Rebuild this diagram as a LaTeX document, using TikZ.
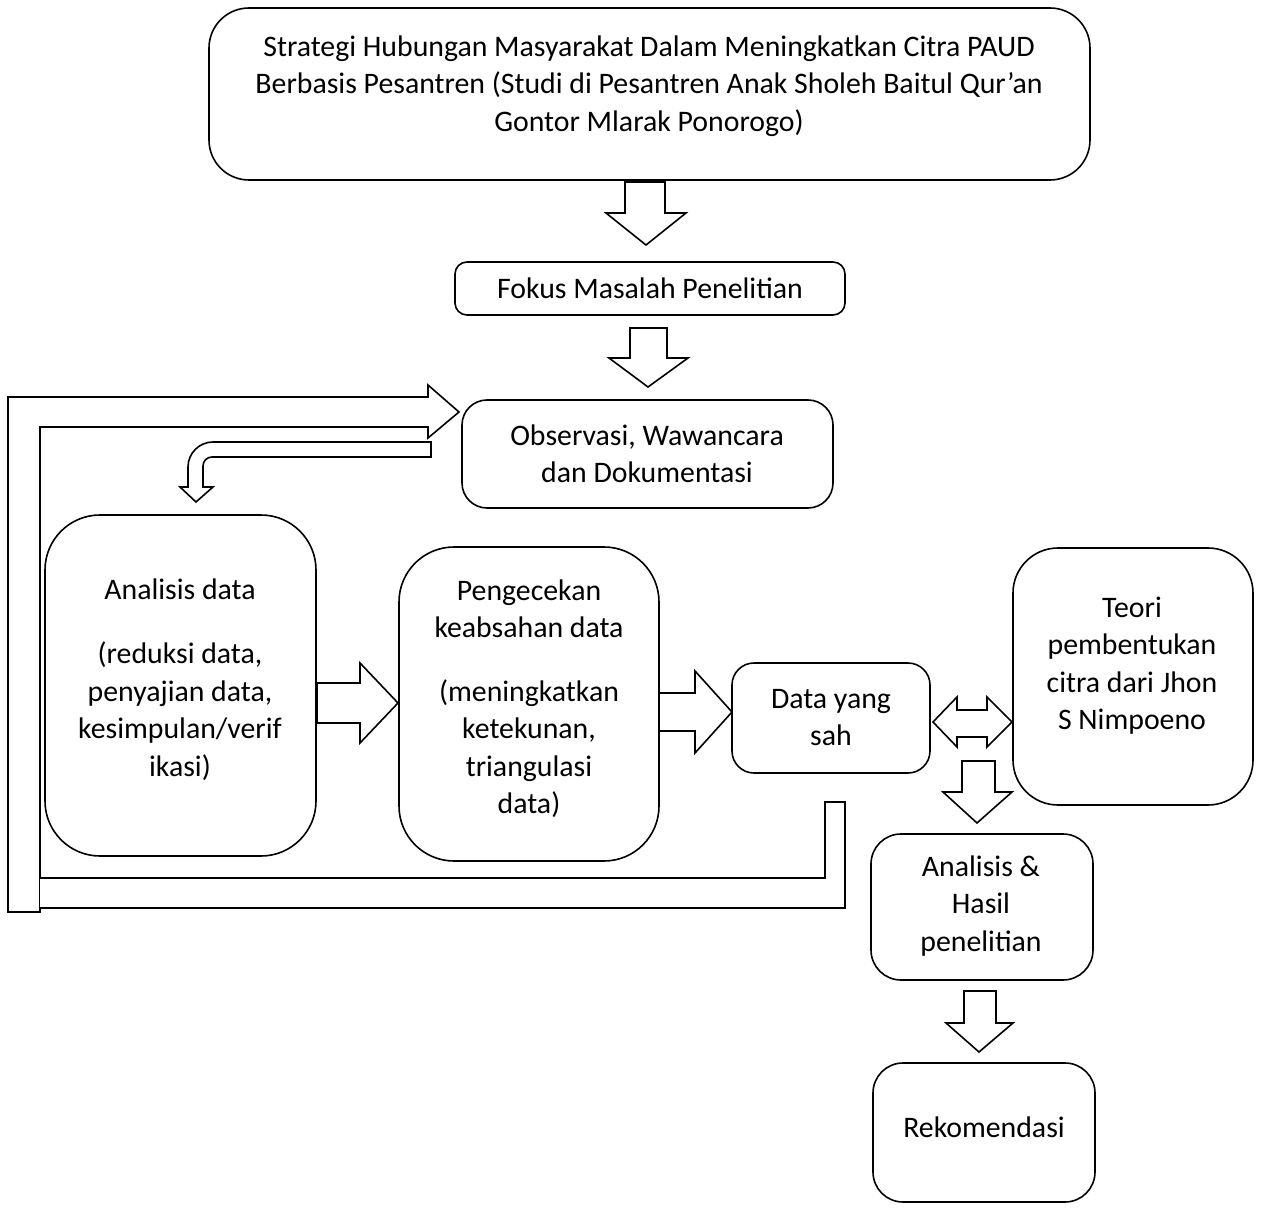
\documentclass[tikz,border=0pt]{standalone}
\usepackage{fontspec}
\setmainfont{Carlito}
\begin{document}
\begin{tikzpicture}[x=1pt,y=-1pt,
  box/.style={draw=black, line width=1.6pt, fill=white, inner sep=0pt},
  txt/.style={font=\fontsize{29.8}{37.5}\selectfont, align=center, inner sep=0pt, anchor=north},
  blk/.style={draw=black, line width=1.6pt, line join=miter, fill=white}]
\useasboundingbox (0,0) rectangle (1262,1209);
% boxes
\node[box, minimum width=881pt, minimum height=172pt, rounded corners=40pt] (top) at (649.5,94) {};
\node[box, minimum width=390pt, minimum height=53pt, rounded corners=12pt] (fokus) at (650,288.5) {};
\node[box, minimum width=371pt, minimum height=108pt, rounded corners=25pt] (obs) at (647.5,454) {};
\node[box, minimum width=271pt, minimum height=341pt, rounded corners=55pt] (anal) at (180.5,685.5) {};
\node[box, minimum width=260pt, minimum height=314pt, rounded corners=55pt] (peng) at (529,704) {};
\node[box, minimum width=198pt, minimum height=110pt, rounded corners=22pt] (data) at (831,718) {};
\node[box, minimum width=240pt, minimum height=257pt, rounded corners=45pt] (teori) at (1133,676.5) {};
\node[box, minimum width=222pt, minimum height=146pt, rounded corners=30pt] (hasil) at (982,907) {};
\node[box, minimum width=222pt, minimum height=139pt, rounded corners=30pt] (rek) at (984,1132.5) {};
% texts
\node[txt] (ttop) at (649,30) {\strut Strategi Hubungan Masyarakat Dalam Meningkatkan Citra PAUD\\Berbasis Pesantren (Studi di Pesantren Anak Sholeh Baitul Qur’an\\Gontor Mlarak Ponorogo)};
\node[txt] (tfokus) at (650,272) {\strut Fokus Masalah Penelitian};
\node[txt] (tobs) at (647,419) {\strut Observasi, Wawancara\\dan Dokumentasi};
\node[txt] (tanal) at (180,573) {\strut Analisis data\\[27pt](reduksi data,\\penyajian data,\\kesimpulan/verif\\ikasi)};
\node[txt] (tpeng) at (529,574) {\strut Pengecekan\\keabsahan data\\[26pt](meningkatkan\\ketekunan,\\triangulasi\\data)};
\node[txt] (tdata) at (831,682) {\strut Data yang\\sah};
\node[txt] (tteori) at (1132,591) {\strut Teori\\pembentukan\\citra dari Jhon\\S Nimpoeno};
\node[txt] (thasil) at (981,850) {\strut Analisis \&\\Hasil\\penelitian};
\node[txt] (trek) at (984,1111) {\strut Rekomendasi};
% block arrows down
\draw[blk] (625,182) -- (665,182) -- (665,213) -- (686,213) -- (646,245) -- (606,213) -- (625,213) -- cycle;
\draw[blk] (630,328) -- (667,328) -- (667,358) -- (688,358) -- (648,387) -- (609,358) -- (630,358) -- cycle;
\draw[blk] (962,761) -- (995,761) -- (995,792) -- (1012,792) -- (977,823) -- (943,792) -- (962,792) -- cycle;
\draw[blk] (964,991) -- (996,991) -- (996,1023) -- (1013,1023) -- (979,1052) -- (946,1023) -- (964,1023) -- cycle;
% block arrows right
\draw[blk] (317,683) -- (360,683) -- (360,663) -- (398,703) -- (360,743) -- (360,723) -- (317,723) -- cycle;
\draw[blk] (659,693) -- (695,693) -- (695,671) -- (732,712) -- (695,753) -- (695,731) -- (659,731) -- cycle;
% double arrow
\draw[blk] (933,722) -- (957,697) -- (957,710) -- (987,710) -- (987,697) -- (1012,722) -- (987,747) -- (987,737) -- (957,737) -- (957,747) -- cycle;
% big return arrow
\draw[blk] (8,912) -- (8,397) -- (428,397) -- (428,385) -- (459,412) -- (428,438) -- (428,427) -- (40,427) -- (40,912) -- cycle;
\draw[blk] (40,878) -- (825,878) -- (825,802) -- (845,802) -- (845,908) -- (40,908);
% small bent arrow
\draw[blk] (431,442) -- (213,442) .. controls (199.2,442) and (188,453.2) .. (188,467) -- (188,487) -- (180,487) -- (196,502) -- (213,487) -- (203,487) -- (203,466) .. controls (203,461) and (207,457) .. (212,457) -- (431,457) -- cycle;
\end{tikzpicture}
\end{document}
